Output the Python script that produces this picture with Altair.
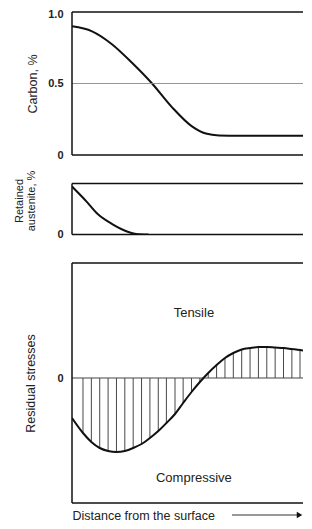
import altair as alt
import pandas as pd

FONT = "Liberation Sans"
INK = "#111111"

carbon_x = [0, 8.4, 16.7, 25.1, 33.5, 41.8, 50.2, 56, 61.5, 70, 100]
carbon_y = [0.90, 0.865, 0.775, 0.645, 0.50, 0.335, 0.20, 0.15, 0.137, 0.135, 0.135]

aus_x = [0, 6, 11, 17, 23, 27, 32]
aus_y = [0.94, 0.65, 0.39, 0.20, 0.06, 0.01, 0.0]

stress_x = [0, 4.6, 8.1, 11.6, 15.1, 18.6, 22.1, 25.6, 29.1, 32.6, 36.1, 39.5,
            43.1, 46.5, 50.0, 53.5, 57.0, 60.5, 64.0, 67.5, 71.0, 74.5, 78.0,
            81.5, 85.0, 88.5, 92.0, 95.4, 99.0, 100]
stress_y = [-0.40, -0.55, -0.64, -0.70, -0.73, -0.74, -0.73, -0.70, -0.66,
            -0.60, -0.53, -0.45, -0.36, -0.25, -0.14, -0.04, 0.05, 0.13, 0.20,
            0.25, 0.285, 0.30, 0.31, 0.31, 0.305, 0.30, 0.29, 0.28, 0.265, 0.26]

region_text = ["Tensile", "Compressive"]
region_x = [51, 51]
region_y = [0.65, -1.0]

W = 231
XMAX = W / 2.39
H3 = 240
one = pd.DataFrame({"a": [0]})
xs = alt.Scale(domain=[0, XMAX], nice=False)


def frame(ymin, ymax, ysc):
    top = alt.Chart(one).mark_rule(color=INK, strokeWidth=1.5).encode(y=alt.datum(ymax, scale=ysc))
    bot = alt.Chart(one).mark_rule(color=INK, strokeWidth=1.5).encode(y=alt.datum(ymin, scale=ysc))
    left = alt.Chart(one).mark_rule(color=INK, strokeWidth=1.5).encode(x=alt.datum(0, scale=xs))
    return [top, bot, left]


ys1 = alt.Scale(domain=[0, 1], nice=False)
c_df = pd.DataFrame({"d": carbon_x, "v": carbon_y})
x1 = alt.X("d:Q", scale=xs, axis=None)
y1 = alt.Y("v:Q", scale=ys1, axis=alt.Axis(
    values=[0, 0.5, 1],
    labelExpr="datum.value == 0 ? '0' : format(datum.value, '.1f')",
    labelOffset={"condition": {"test": "datum.value == 1", "value": 2.5}, "value": 0},
    title="Carbon, %", titlePadding=8, labelPadding=9))
grid1 = alt.Chart(one).mark_rule(color="#8a8a8a", strokeWidth=0.9).encode(y=alt.datum(0.5, scale=ys1))
line1 = alt.Chart(c_df).mark_line(color=INK, strokeWidth=2, interpolate="monotone", clip=True).encode(x=x1, y=y1)
p1 = alt.layer(line1, grid1, *frame(0, 1, ys1)).properties(width=W, height=143)

ys2 = alt.Scale(domain=[0, 1], nice=False)
a_df = pd.DataFrame({"d": aus_x, "v": aus_y})
x2 = alt.X("d:Q", scale=xs, axis=None)
y2 = alt.Y("v:Q", scale=ys2, axis=alt.Axis(
    values=[0], labelExpr="'0'", title=["Retained", "austenite, %"],
    titlePadding=20, labelPadding=9, titleFontSize=11, titleLineHeight=12,
    titleY=17))
line2 = alt.Chart(a_df).mark_line(color=INK, strokeWidth=2, interpolate="monotone", clip=True).encode(x=x2, y=y2)
p2 = alt.layer(line2, *frame(0, 1, ys2)).properties(width=W, height=51)

ys3 = alt.Scale(domain=[-1.25, 1.15], nice=False)
s_df = pd.DataFrame({"d": stress_x, "v": stress_y})
h_df = s_df.iloc[1:-1]
x3 = alt.X("d:Q", scale=xs, axis=alt.Axis(
    title="Distance from the surface", labels=False, ticks=False, domain=False,
    grid=False, titleX=0, titleY=6.5, titleAlign="left", titleBaseline="top",
    titleFontSize=12.5))
y3 = alt.Y("v:Q", scale=ys3, axis=alt.Axis(
    values=[0], labelExpr="'0'", title="Residual stresses",
    titlePadding=19, labelPadding=9))
zero3 = alt.Chart(one).mark_rule(color="#444444", strokeWidth=1).encode(y=alt.datum(0, scale=ys3))
hatch = alt.Chart(h_df).mark_rule(color="#333333", strokeWidth=0.9, clip=True).encode(x=x3, y=y3, y2=alt.datum(0))
line3 = alt.Chart(s_df).mark_line(color=INK, strokeWidth=2, interpolate="monotone", clip=True).encode(x=x3, y=y3)
t_df = pd.DataFrame({"t": region_text, "d": region_x, "v": region_y})
texts = alt.Chart(t_df).mark_text(font=FONT, fontSize=13, color="#222222").encode(x=x3, y=y3, text="t:N")
arrow_line = alt.Chart(one).mark_rule(color="#333333", strokeWidth=1).encode(
    x=alt.value(160), x2=alt.value(226), y=alt.value(H3 + 12))
arrow_head = alt.Chart(one).mark_point(shape="triangle-right", filled=True, size=40,
                                       color=INK, opacity=1).encode(
    x=alt.value(227.5), y=alt.value(H3 + 12))
p3 = alt.layer(hatch, zero3, line3, texts, arrow_line, arrow_head,
               *frame(-1.25, 1.15, ys3)).properties(width=W, height=H3)

chart = alt.vconcat(p1, p2, p3, spacing=28.5, bounds="flush").properties(
    padding={"left": 5, "top": 0, "right": 0, "bottom": 0}
).configure_view(stroke=None).configure_axis(
    labelFont=FONT, titleFont=FONT, labelFontSize=11, labelFontWeight="bold",
    labelColor="#222222", titleColor="#222222", titleFontSize=12.5,
    titleFontWeight="normal", domain=False, ticks=False, grid=False
)

chart.save("out.html", embed_options={"renderer": "svg", "actions": False})
